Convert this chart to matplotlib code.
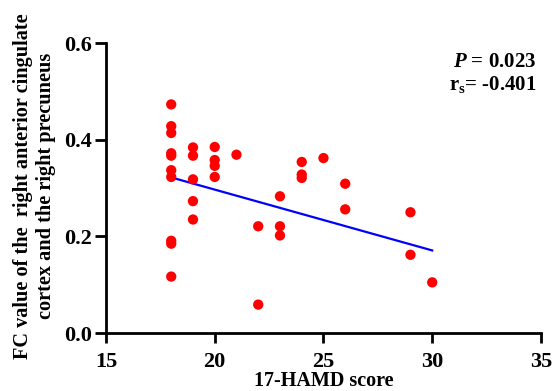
import matplotlib.pyplot as plt

plt.rcParams['font.family'] = ['Liberation Serif', 'DejaVu Serif']
plt.rcParams['font.weight'] = 'bold'
plt.rcParams['mathtext.fontset'] = 'custom'
plt.rcParams['mathtext.rm'] = 'Liberation Serif:bold'
plt.rcParams['mathtext.it'] = 'Liberation Serif:bold:italic'

# 17-HAMD score vs FC value
hamd = [18, 18, 18, 18, 18, 18, 18, 18, 18, 18,
        19, 19, 19, 19, 19,
        20, 20, 20, 20,
        21,
        22, 22,
        23, 23, 23,
        24, 24, 24,
        25,
        26, 26,
        29, 29,
        30]
fc = [0.473, 0.428, 0.414, 0.372, 0.367, 0.337, 0.323, 0.191, 0.185, 0.117,
      0.384, 0.367, 0.318, 0.273, 0.235,
      0.385, 0.358, 0.346, 0.323,
      0.369,
      0.221, 0.059,
      0.283, 0.221, 0.202,
      0.354, 0.328, 0.321,
      0.362,
      0.309, 0.256,
      0.250, 0.162,
      0.105]

fit_x = [18, 30]
fit_y = [0.322, 0.171]

x_ticks = [15, 20, 25, 30, 35]
y_ticks = [0.0, 0.2, 0.4, 0.6]

fig = plt.figure(figsize=(5.52, 3.91), dpi=100)
ax = fig.add_axes([0.192, 0.148, 0.788, 0.742])

ax.scatter(hamd, fc, s=55, color='#ff0000', edgecolors='none', zorder=3)
ax.plot(fit_x, fit_y, color='#0000ff', lw=1.6, zorder=2)

ax.set_xlim(15, 35)
ax.set_ylim(0, 0.6)
ax.set_xticks(x_ticks)
ax.set_yticks(y_ticks)
ax.set_yticklabels([f"{v:.1f}" for v in y_ticks])

for s in ['top', 'right']:
    ax.spines[s].set_visible(False)
for s in ['left', 'bottom']:
    ax.spines[s].set_linewidth(2)
ax.tick_params(width=2, labelsize=16)
ax.tick_params(axis='y', length=8, pad=2)
ax.tick_params(axis='x', length=7, pad=6.5)
for lab in ax.get_xticklabels() + ax.get_yticklabels():
    lab.set_fontweight('bold')

ax.set_xlabel('17-HAMD score', fontsize=14.5, fontweight='bold', labelpad=-0.5)
ax.set_ylabel('FC value of the  right anterior cingulate\ncortex and the right precuneus',
              fontsize=14.6, fontweight='bold', linespacing=1.2)
ax.yaxis.set_label_coords(-0.115, 0.507)

ax.text(0.99, 0.97, r'$P$ = 0.023', transform=ax.transAxes, ha='right', va='top',
        fontsize=15, fontweight='bold')
ax.text(0.99, 0.893, r'r$_\mathregular{s}$= -0.401', transform=ax.transAxes, ha='right',
        va='top', fontsize=15, fontweight='bold')

fig.savefig('out.png', dpi=100)
